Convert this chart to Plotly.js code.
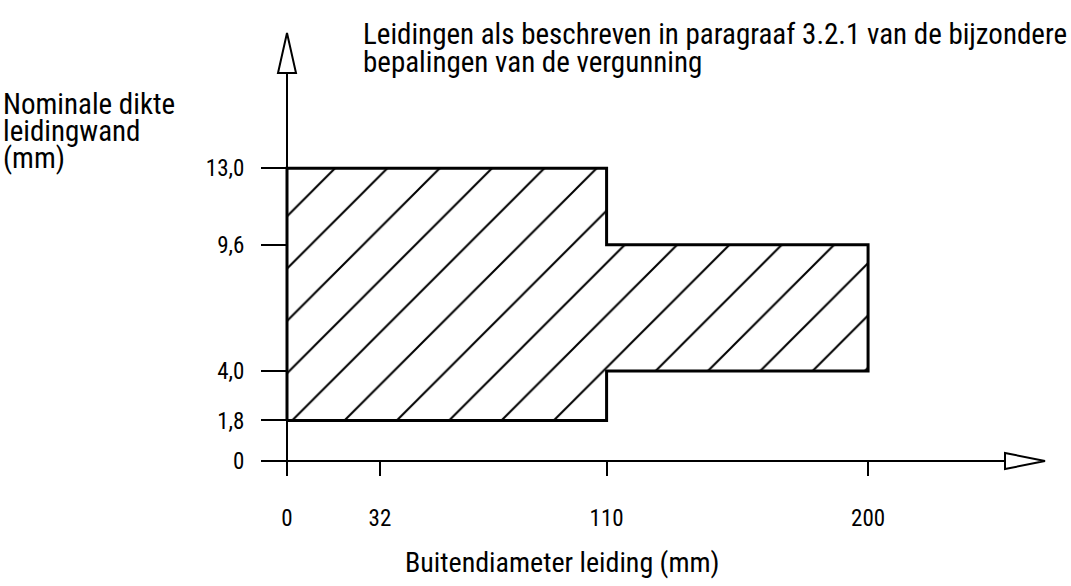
<!DOCTYPE html>
<html>
<head>
<meta charset="utf-8">
<script src="https://cdn.plot.ly/plotly-3.0.1.min.js"></script>
<style>
  html, body { margin: 0; padding: 0; background: #fff; }
  #chart { width: 1071px; height: 586px; }
  /* narrow lettering like the scanned drawing; applies to plotly's measuring node too */
  text { font-stretch: 75%; }
</style>
</head>
<body>
<div id="chart"></div>
<script>
// diameters where the allowed wall thickness band changes (mm)
var diameters = [0, 110, 200];
// band per diameter segment: minimum and maximum nominal wall thickness (mm)
var minThickness = [1.8, 4.0];
var maxThickness = [13.0, 9.6];

var xTickVals = [0, 32, 110, 200];
var yTickVals = [0, 1.8, 4.0, 9.6, 13.0];
var yTickText = ['0', '1,8', '4,0', '9,6', '13,0'];

var titleLines = ['Leidingen als beschreven in paragraaf 3.2.1 van de bijzondere',
                  'bepalingen van de vergunning'];
var yTitleLines = ['Nominale dikte', 'leidingwand', '(mm)'];
var xTitle = 'Buitendiameter leiding (mm)';

var font = 'Roboto, sans-serif';

// plot area in pixels, used to place the free text
var W = 1071, H = 586;
var mar = {l: 261, r: 26, t: 33, b: 110};
function px(x) { return (x - mar.l) / (W - mar.l - mar.r); }
function py(y) { return (H - mar.b - y) / (H - mar.t - mar.b); }

// outline of the hatched area: up the left side, along the top, down, back along the bottom
var polyX = [], polyY = [];
polyX.push(diameters[0]); polyY.push(minThickness[0]);
for (var i = 0; i < maxThickness.length; i++) {
    polyX.push(diameters[i]); polyY.push(maxThickness[i]);
    polyX.push(diameters[i + 1]); polyY.push(maxThickness[i]);
}
for (var j = minThickness.length - 1; j >= 0; j--) {
    polyX.push(diameters[j + 1]); polyY.push(minThickness[j]);
    polyX.push(diameters[j]); polyY.push(minThickness[j]);
}

var area = {
    x: polyX, y: polyY,
    mode: 'lines',
    fill: 'toself',
    fillcolor: 'rgba(0,0,0,0)',
    fillpattern: {shape: '/', size: 37, solidity: 0.055, fgcolor: 'black', bgcolor: 'white'},
    line: {color: 'black', width: 3},
    hoverinfo: 'skip',
    showlegend: false
};

// stacked lines sit tighter than plotly's <br> spacing, so one annotation per line
var annotations = [];
titleLines.forEach(function (t, k) {
    annotations.push({xref: 'paper', yref: 'paper', x: px(361), y: py(34 + 28 * k),
        xanchor: 'left', yanchor: 'middle', showarrow: false, text: t,
        font: {family: font, size: 29, color: 'black'}});
});
yTitleLines.forEach(function (t, k) {
    annotations.push({xref: 'paper', yref: 'paper', x: px(1), y: py(104 + 27 * k),
        xanchor: 'left', yanchor: 'middle', showarrow: false, text: t,
        font: {family: font, size: 29, color: 'black'}});
});
annotations.push({xref: 'paper', yref: 'paper', x: px(562), y: py(562),
    xanchor: 'center', yanchor: 'middle', showarrow: false, text: xTitle,
    font: {family: font, size: 28, color: 'black'}});

var layout = {
    width: W, height: H,
    margin: mar,
    paper_bgcolor: 'white',
    plot_bgcolor: 'white',
    showlegend: false,
    xaxis: {
        range: [-8.95, 260.9],
        showgrid: false,
        zeroline: true, zerolinecolor: 'black', zerolinewidth: 2,
        anchor: 'free', position: 0.034,
        tickvals: xTickVals,
        ticktext: xTickVals.map(String),
        ticks: 'outside', ticklen: 14, tickwidth: 2, tickcolor: 'black',
        ticklabelstandoff: 22,
        tickfont: {family: font, size: 23, color: 'black'},
        showline: false
    },
    yaxis: {
        range: [-0.666, 19.0],
        showgrid: false,
        zeroline: true, zerolinecolor: 'black', zerolinewidth: 2,
        anchor: 'free', position: 0.0332,
        tickvals: yTickVals,
        ticktext: yTickText,
        ticks: 'outside', ticklen: 26, tickwidth: 2, tickcolor: 'black',
        ticklabelstandoff: 12,
        tickfont: {family: font, size: 23, color: 'black'},
        showline: false
    },
    shapes: [
        // open arrow heads at the ends of the axes
        {type: 'path', xref: 'x', yref: 'paper', xsizemode: 'pixel', ysizemode: 'pixel',
         xanchor: 0, yanchor: 1, path: 'M0,0 L-9,-40 L9,-40 Z',
         fillcolor: 'white', line: {color: 'black', width: 2}},
        {type: 'path', xref: 'paper', yref: 'y', xsizemode: 'pixel', ysizemode: 'pixel',
         xanchor: 1, yanchor: 0, path: 'M0,0 L-40,8 L-40,-8 Z',
         fillcolor: 'white', line: {color: 'black', width: 2}}
    ],
    annotations: annotations
};

Plotly.newPlot('chart', [area], layout, {displayModeBar: false, staticPlot: true});
</script>
</body>
</html>
